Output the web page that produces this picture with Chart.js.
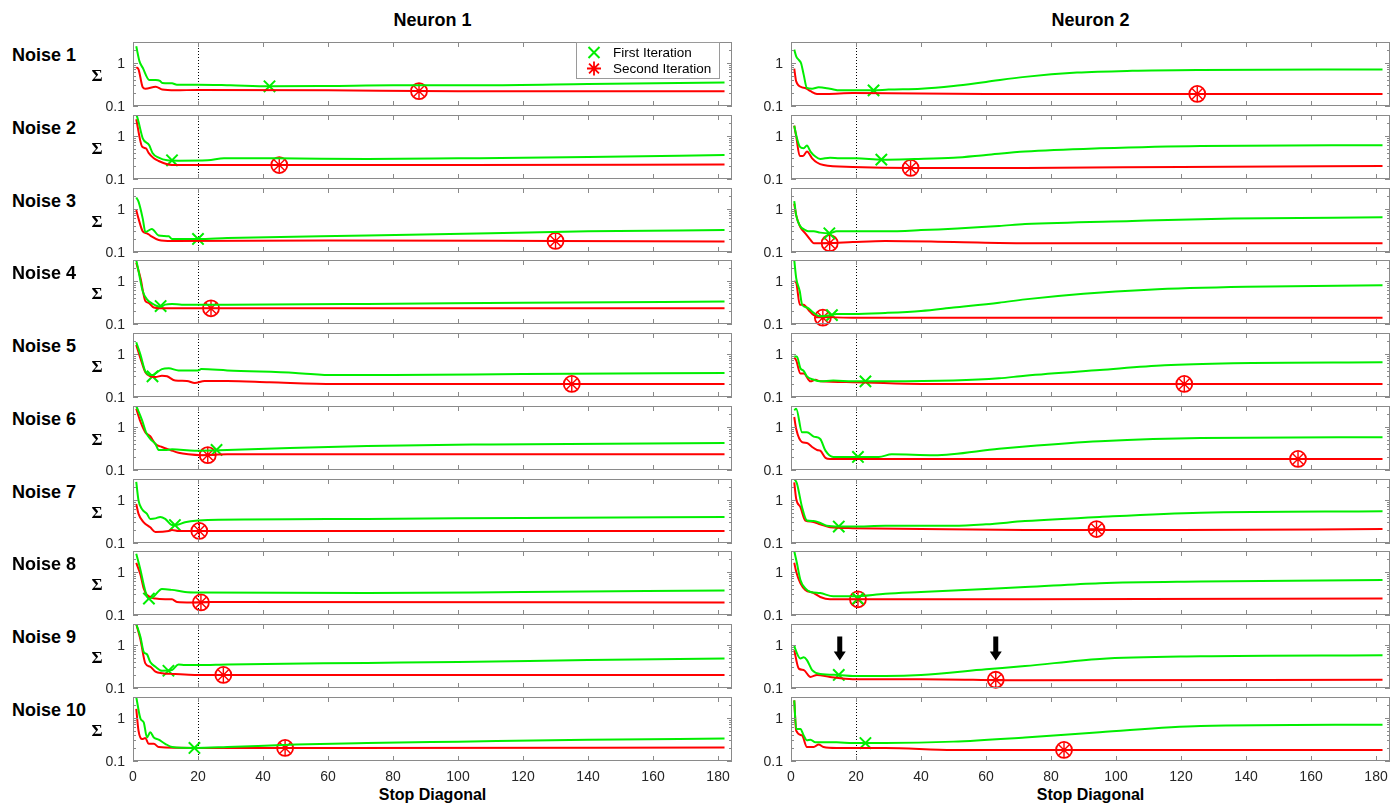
<!DOCTYPE html>
<html><head><meta charset="utf-8">
<script src="https://cdn.jsdelivr.net/npm/chart.js@4.4.1/dist/chart.umd.min.js"></script>
<style>
body{margin:0;background:#fff;width:1391px;height:805px;overflow:hidden;position:relative;font-family:"Liberation Sans",Arial,Helvetica,sans-serif;}
.lbl{position:absolute;font-weight:bold;color:#000;white-space:nowrap;line-height:1;}
canvas{position:absolute;}
</style></head><body>
<script>
// ---------- axis / annotation values ----------
const xTicks = [0,20,40,60,80,100,120,140,160,180];
const yTicks = [0.1,1];
const yMinor = [0.2,0.3,0.4,0.5,0.6,0.7,0.8,0.9,2,3];
const stopLine = 20;
const columnTitles = ["Neuron 1","Neuron 2"];
const rowTitles = ["Noise 1","Noise 2","Noise 3","Noise 4","Noise 5","Noise 6","Noise 7","Noise 8","Noise 9","Noise 10"];
const xTitle = "Stop Diagonal";
const yTitle = "Σ";
const legendLabels = ["First Iteration","Second Iteration"];
const arrowX = [15,63];
const arrowY = [1.55,0.43];

// ---------- Neuron 1 : first iteration (green) ----------
const n1_g1 = [[1,2.4],[2,1.07],[3,0.76],[5,0.4],[7,0.4],[8.3,0.38],[9,0.34],[12,0.335],[13.5,0.31],[20,0.31],[30,0.3],[42,0.285],[60,0.29],[80,0.3],[107,0.3],[140,0.32],[182,0.35]];
const n1_g2 = [[1,3.2],[1.7,2.1],[3,0.87],[5,0.6],[6,0.4],[7.9,0.31],[10.5,0.27],[14,0.265],[23,0.27],[28,0.3],[44,0.3],[72,0.29],[100,0.3],[140,0.32],[182,0.36]];
const n1_g3 = [[1,1.8],[1.7,1.45],[3,0.59],[3.8,0.29],[5.8,0.34],[7.9,0.24],[11,0.23],[12,0.2],[15,0.2],[20,0.2],[29,0.21],[72,0.24],[110,0.27],[140,0.3],[182,0.32]];
const n1_g4 = [[1,3.0],[1.7,1.67],[3,0.57],[4.3,0.37],[5.8,0.3],[8.5,0.25],[9.9,0.28],[12,0.29],[15,0.28],[29,0.28],[72,0.29],[120,0.31],[182,0.33]];
const n1_g5 = [[1,1.83],[2.3,0.94],[3.8,0.39],[5.8,0.32],[6.9,0.35],[8.9,0.44],[11,0.46],[14,0.41],[20,0.41],[21,0.44],[29,0.41],[50,0.36],[62,0.32],[80,0.32],[120,0.34],[182,0.36]];
const n1_g6 = [[1,3.0],[2.8,1.4],[4,0.74],[5.3,0.52],[6.9,0.4],[7.9,0.29],[9.9,0.29],[12,0.3],[19,0.28],[29,0.29],[72,0.36],[110,0.39],[182,0.42]];
const n1_g7 = [[1,2.56],[1.7,0.96],[2.8,0.6],[4.3,0.47],[5.3,0.36],[6.9,0.37],[8.4,0.4],[9.9,0.36],[12,0.26],[13,0.26],[16,0.3],[20,0.33],[23,0.34],[72,0.36],[120,0.38],[182,0.4]];
const n1_g8 = [[1,2.6],[2.3,1.1],[3.3,0.5],[4.3,0.27],[5,0.24],[6.4,0.27],[8.9,0.4],[12,0.38],[16,0.34],[20,0.33],[72,0.32],[120,0.34],[182,0.37]];
const n1_g9 = [[1,3.0],[2.3,1.5],[3.3,0.68],[4.3,0.6],[5.3,0.4],[6.9,0.31],[8.9,0.25],[12,0.26],[14,0.35],[16,0.34],[20,0.34],[29,0.35],[72,0.38],[100,0.4],[140,0.44],[182,0.48]];
const n1_g10 = [[1,3.0],[2.3,0.95],[3.3,0.78],[4.3,0.35],[5.3,0.46],[6.4,0.35],[7.9,0.31],[9.9,0.25],[12,0.21],[19,0.2],[29,0.21],[50,0.24],[72,0.26],[100,0.28],[140,0.31],[182,0.33]];

// ---------- Neuron 1 : second iteration (red) ----------
const n1_r1 = [[1,0.78],[1.7,0.7],[3,0.27],[3.8,0.25],[7,0.28],[9,0.24],[13,0.23],[20,0.235],[60,0.23],[100,0.22],[182,0.22]];
const n1_r2 = [[1,2.4],[2.8,0.56],[4,0.51],[4.8,0.4],[6.4,0.3],[7.9,0.26],[10.5,0.22],[14,0.21],[45,0.21],[100,0.21],[182,0.215]];
const n1_r3 = [[1,0.93],[1.7,0.59],[3,0.3],[4.3,0.27],[5.3,0.24],[7.9,0.19],[12,0.18],[60,0.185],[130,0.18],[182,0.175]];
const n1_r4 = [[1,2.6],[2.3,1.15],[3.8,0.34],[4.8,0.31],[6.4,0.24],[8.9,0.23],[24,0.23],[182,0.23]];
const n1_r5 = [[1,1.6],[2.3,0.78],[3.8,0.37],[5.3,0.3],[6.9,0.29],[8.9,0.31],[10.5,0.3],[13,0.24],[16.6,0.235],[19,0.21],[22,0.235],[29,0.235],[42,0.22],[62,0.2],[182,0.2]];
const n1_r6 = [[1,2.6],[2.3,1.3],[3.8,0.74],[5.3,0.6],[6.9,0.4],[8.9,0.34],[11.5,0.29],[14,0.25],[17,0.23],[21,0.22],[29,0.23],[72,0.23],[182,0.23]];
const n1_r7 = [[1,0.8],[1.7,0.47],[3.3,0.3],[5.3,0.23],[6.9,0.18],[11,0.19],[12,0.2],[14,0.19],[20,0.19],[72,0.19],[182,0.19]];
const n1_r8 = [[1,1.6],[2.3,0.85],[3.3,0.41],[4.3,0.29],[6.9,0.24],[9.9,0.23],[12,0.23],[13.5,0.2],[18,0.195],[23,0.2],[182,0.195]];
const n1_r9 = [[1,3.0],[2.3,1.3],[3.8,0.37],[5.3,0.31],[6.9,0.24],[8.9,0.22],[13,0.21],[19,0.2],[182,0.2]];
const n1_r10 = [[1,1.6],[1.7,0.5],[2.8,0.32],[3.8,0.34],[4.8,0.25],[6.4,0.25],[7.9,0.21],[19,0.2],[60,0.2],[182,0.205]];

// ---------- Neuron 2 : first iteration (green) ----------
const n2_g1 = [[1,2.0],[1.6,1.4],[2.4,1.16],[3.1,0.97],[3.9,0.53],[4.9,0.26],[6.5,0.25],[8.5,0.27],[12,0.25],[15,0.23],[25.4,0.23],[30,0.24],[40,0.25],[50,0.29],[60,0.36],[72,0.47],[88,0.59],[105,0.65],[126,0.68],[182,0.7]];
const n2_g2 = [[1,1.7],[1.6,1.03],[2.7,0.56],[3.9,0.51],[4.9,0.59],[6,0.43],[7.5,0.33],[9,0.29],[12,0.31],[15,0.3],[20,0.3],[28,0.28],[38,0.29],[50,0.31],[60,0.36],[72,0.43],[95,0.51],[126,0.58],[182,0.6]];
const n2_g3 = [[1,1.5],[1.6,0.7],[2.7,0.41],[4.4,0.32],[5.4,0.3],[7,0.3],[9,0.28],[11.8,0.27],[14,0.3],[29,0.3],[40,0.32],[64,0.4],[72,0.44],[105,0.52],[136,0.59],[182,0.63]];
const n2_g4 = [[1,3.0],[1.6,1.15],[2.7,0.57],[3.4,0.28],[4.9,0.24],[7,0.18],[9,0.15],[12,0.16],[14,0.17],[19,0.17],[29,0.18],[40,0.2],[50,0.24],[64,0.31],[72,0.37],[90,0.5],[110,0.62],[140,0.72],[182,0.78]];
const n2_g5 = [[1,0.86],[1.8,0.86],[2.9,0.46],[3.9,0.4],[4.9,0.3],[7,0.25],[9,0.23],[13,0.24],[19,0.23],[29,0.23],[50,0.24],[64,0.27],[72,0.31],[95,0.42],[115,0.54],[136,0.6],[182,0.63]];
const n2_g6 = [[1,2.4],[1.6,2.6],[3.4,0.74],[4.9,0.74],[7,0.59],[9,0.52],[10.6,0.28],[13,0.2],[17,0.2],[20.6,0.2],[27,0.2],[31,0.23],[44,0.22],[64,0.31],[72,0.35],[95,0.46],[126,0.55],[182,0.57]];
const n2_g7 = [[1,3.0],[1.8,2.4],[3.4,0.67],[4.9,0.33],[7,0.32],[9,0.29],[11,0.25],[14.7,0.24],[19,0.24],[29,0.25],[50,0.25],[60,0.27],[72,0.32],[95,0.4],[126,0.5],[182,0.54]];
const n2_g8 = [[1,3.0],[1.8,1.6],[2.9,0.64],[4.4,0.41],[6,0.34],[9,0.32],[13,0.27],[19,0.27],[29,0.31],[40,0.34],[60,0.4],[72,0.44],[95,0.54],[126,0.59],[182,0.64]];
const n2_g9 = [[1,0.97],[1.3,0.8],[2.9,0.48],[3.9,0.51],[4.9,0.44],[6.5,0.26],[9,0.21],[14.7,0.2],[19,0.19],[29,0.19],[40,0.2],[60,0.27],[72,0.32],[95,0.47],[126,0.54],[182,0.57]];
const n2_g10 = [[1,2.5],[1.6,0.55],[2.9,0.55],[3.9,0.39],[4.9,0.3],[6,0.31],[7.5,0.27],[14,0.27],[19,0.26],[29,0.26],[50,0.28],[72,0.35],[95,0.46],[126,0.64],[182,0.69]];

// ---------- Neuron 2 : second iteration (red) ----------
const n2_r1 = [[1,0.73],[1.6,0.37],[3.4,0.27],[4.4,0.26],[6,0.22],[8,0.19],[11,0.19],[19,0.2],[60,0.19],[182,0.19]];
const n2_r2 = [[1,1.7],[1.6,0.96],[2.7,0.34],[3.7,0.34],[4.9,0.43],[6.5,0.3],[8,0.24],[10,0.21],[19,0.19],[37,0.18],[72,0.18],[120,0.19],[182,0.2]];
const n2_r3 = [[1,1.3],[1.6,0.7],[2.9,0.37],[4.4,0.27],[6,0.19],[7,0.16],[11,0.16],[19,0.17],[29,0.18],[50,0.17],[72,0.16],[182,0.16]];
const n2_r4 = [[1,0.97],[1.6,0.9],[2.7,0.28],[3.9,0.28],[5.4,0.21],[7,0.16],[9,0.15],[19,0.14],[182,0.14]];
const n2_r5 = [[1,0.81],[1.6,0.7],[2.9,0.35],[3.9,0.35],[6,0.23],[7.5,0.25],[9,0.23],[19,0.22],[40,0.2],[182,0.2]];
const n2_r6 = [[1,1.67],[1.6,0.88],[3.4,0.44],[4.9,0.42],[6.5,0.34],[8,0.29],[9,0.28],[10.6,0.19],[12,0.18],[29,0.18],[182,0.18]];
const n2_r7 = [[1,2.5],[1.6,1.04],[2.9,0.67],[4.4,0.33],[6.5,0.31],[9,0.27],[12,0.23],[19,0.22],[40,0.21],[72,0.2],[120,0.2],[182,0.21]];
const n2_r8 = [[1,1.6],[1.6,1.0],[2.9,0.54],[4.4,0.38],[7,0.32],[9,0.26],[12,0.23],[19,0.23],[72,0.23],[182,0.24]];
const n2_r9 = [[1,0.74],[2.4,0.28],[3.9,0.26],[6,0.18],[8,0.2],[12,0.18],[19,0.16],[40,0.16],[72,0.15],[182,0.155]];
const n2_r10 = [[1,2.5],[1.6,0.5],[3.4,0.39],[4.9,0.21],[7,0.21],[8.5,0.24],[10,0.21],[14,0.2],[29,0.2],[50,0.18],[72,0.18],[182,0.18]];

// ---------- selected stop markers (one per panel, rows Noise 1..10) ----------
const n1_firstMark  = [[42,0.285],[12,0.27],[20,0.2],[8.5,0.26],[6,0.3],[25.7,0.29],[12.9,0.26],[4.9,0.24],[10.9,0.25],[18.9,0.2]];
const n1_secondMark = [[88,0.22],[45,0.21],[130,0.18],[24,0.23],[135,0.2],[23,0.22],[20.4,0.19],[20.9,0.195],[27.8,0.2],[46.8,0.2]];
const n2_firstMark  = [[25.4,0.23],[27.8,0.28],[11.8,0.27],[12.6,0.16],[22.9,0.23],[20.6,0.2],[14.7,0.24],[20.6,0.24],[14.7,0.2],[22.9,0.26]];
const n2_secondMark = [[125,0.19],[36.8,0.18],[11.9,0.16],[9.8,0.14],[121,0.2],[156,0.18],[94,0.21],[20.6,0.23],[63,0.155],[84,0.18]];

// ---------- assembly ----------
const GREEN = '#00ee00', RED = '#ff0000', FRAME = '#8a8a8a', TXT = '#262626';
const series = [
  {first:[n1_g1,n1_g2,n1_g3,n1_g4,n1_g5,n1_g6,n1_g7,n1_g8,n1_g9,n1_g10],
   second:[n1_r1,n1_r2,n1_r3,n1_r4,n1_r5,n1_r6,n1_r7,n1_r8,n1_r9,n1_r10],
   fm:n1_firstMark, sm:n1_secondMark},
  {first:[n2_g1,n2_g2,n2_g3,n2_g4,n2_g5,n2_g6,n2_g7,n2_g8,n2_g9,n2_g10],
   second:[n2_r1,n2_r2,n2_r3,n2_r4,n2_r5,n2_r6,n2_r7,n2_r8,n2_r9,n2_r10],
   fm:n2_firstMark, sm:n2_secondMark}
];
const toXY = a => a.map(p => ({x:p[0], y:p[1]}));

const colX0 = [133, 791], plotW = 599, plotH = 64;
const padL = 60, padT = 12, padR = 12;
function panelTop(r){ return Math.round(42.3 + 72.7*r); }

const framePlugin = {
  id:'frame',
  beforeDatasetsDraw(chart, args, o){
    const {ctx, chartArea:a, scales:{x}} = chart;
    ctx.save();
    ctx.strokeStyle = '#000'; ctx.lineWidth = 1; ctx.setLineDash([1,2]);
    const px = Math.round(x.getPixelForValue(stopLine)) + 0.5;
    ctx.beginPath(); ctx.moveTo(px, a.top); ctx.lineTo(px, a.bottom); ctx.stroke();
    ctx.restore();
  },
  afterDatasetsDraw(chart, args, o){
    const {ctx, chartArea:a, scales:{x, y}} = chart;
    ctx.save();
    // frame
    ctx.strokeStyle = FRAME; ctx.lineWidth = 1;
    ctx.strokeRect(a.left + 0.5, a.top + 0.5, a.right - a.left - 1, a.bottom - a.top - 1);
    ctx.beginPath();
    xTicks.forEach(v => {
      const px = Math.round(x.getPixelForValue(v)) + 0.5;
      ctx.moveTo(px, a.top); ctx.lineTo(px, a.top + 5);
      ctx.moveTo(px, a.bottom); ctx.lineTo(px, a.bottom - 5);
    });
    yTicks.forEach(v => {
      const py = Math.round(y.getPixelForValue(v)) + 0.5;
      ctx.moveTo(a.left, py); ctx.lineTo(a.left + 5, py);
      ctx.moveTo(a.right, py); ctx.lineTo(a.right - 5, py);
    });
    yMinor.forEach(v => {
      const py = Math.round(y.getPixelForValue(v)) + 0.5;
      ctx.moveTo(a.left, py); ctx.lineTo(a.left + 3, py);
      ctx.moveTo(a.right, py); ctx.lineTo(a.right - 3, py);
    });
    ctx.stroke();
    // y tick labels
    ctx.fillStyle = TXT; ctx.font = '14px "Liberation Sans", Arial, sans-serif';
    ctx.textAlign = 'right'; ctx.textBaseline = 'middle';
    yTicks.forEach(v => ctx.fillText(String(v), a.left - 8, y.getPixelForValue(v) + 1));
    // x tick labels (bottom row)
    if (o.row === 9) {
      ctx.textAlign = 'center'; ctx.textBaseline = 'middle';
      xTicks.forEach(v => ctx.fillText(String(v), x.getPixelForValue(v), a.bottom + 16));
    }
    // sigma label (left column)
    if (o.col === 0) {
      ctx.fillStyle = '#000'; ctx.font = 'bold 17px "Liberation Serif", "DejaVu Serif", serif';
      ctx.textAlign = 'center'; ctx.textBaseline = 'middle';
      ctx.fillText(yTitle, a.left - 36, (a.top + a.bottom) / 2 + 3);
    }
    // arrows (Neuron 2, Noise 9)
    if (o.col === 1 && o.row === 8) {
      ctx.fillStyle = '#000';
      arrowX.forEach(v => {
        const px = x.getPixelForValue(v);
        const yt = y.getPixelForValue(arrowY[0]), yb = y.getPixelForValue(arrowY[1]);
        const hl = 9;
        ctx.beginPath();
        ctx.moveTo(px - 2.5, yt); ctx.lineTo(px + 2.5, yt); ctx.lineTo(px + 2.5, yb - hl);
        ctx.lineTo(px + 6, yb - hl); ctx.lineTo(px, yb); ctx.lineTo(px - 6, yb - hl);
        ctx.lineTo(px - 2.5, yb - hl); ctx.closePath(); ctx.fill();
      });
    }
    // legend (first panel)
    if (o.col === 0 && o.row === 0) {
      const right = a.right - 13, left = right - 143, top = a.top + 0.5, h = 36;
      ctx.fillStyle = '#fff'; ctx.fillRect(left, top, right - left, h);
      ctx.strokeStyle = '#9a9a9a'; ctx.lineWidth = 1;
      ctx.strokeRect(left + 0.5, top, right - left, h);
      const mx = left + 18;
      ctx.strokeStyle = GREEN; ctx.lineWidth = 2;
      const r1 = 5.5, yy1 = top + 10;
      ctx.beginPath(); ctx.moveTo(mx - r1, yy1 - r1); ctx.lineTo(mx + r1, yy1 + r1);
      ctx.moveTo(mx + r1, yy1 - r1); ctx.lineTo(mx - r1, yy1 + r1); ctx.stroke();
      ctx.strokeStyle = RED; ctx.lineWidth = 1.8;
      const yy2 = top + 26, r2 = 7;
      ctx.beginPath();
      for (let k = 0; k < 4; k++) {
        const ang = k * Math.PI / 4;
        ctx.moveTo(mx - r2*Math.cos(ang), yy2 - r2*Math.sin(ang));
        ctx.lineTo(mx + r2*Math.cos(ang), yy2 + r2*Math.sin(ang));
      }
      ctx.stroke();
      ctx.fillStyle = '#000'; ctx.font = '13.5px "Liberation Sans", Arial, sans-serif';
      ctx.textAlign = 'left'; ctx.textBaseline = 'middle';
      ctx.fillText(legendLabels[0], left + 37, yy1 + 1);
      ctx.fillText(legendLabels[1], left + 37, yy2 + 1);
    }
    ctx.restore();
  }
};

function addLabel(text, x, y, size, align){
  const d = document.createElement('div');
  d.className = 'lbl'; d.textContent = text; d.style.fontSize = size + 'px';
  d.style.top = y + 'px';
  if (align === 'center') { d.style.left = (x - 200) + 'px'; d.style.width = '400px'; d.style.textAlign = 'center'; }
  else d.style.left = x + 'px';
  document.body.appendChild(d);
}

for (let c = 0; c < 2; c++) {
  addLabel(columnTitles[c], colX0[c] + plotW/2, 11, 18, 'center');
  addLabel(xTitle, colX0[c] + plotW/2, 787, 16, 'center');
  for (let r = 0; r < 10; r++) {
    if (c === 0) addLabel(rowTitles[r], 12, panelTop(r) + 4, 18, 'left');
    const padB = r === 9 ? 40 : 12;
    const cv = document.createElement('canvas');
    const W = padL + plotW + padR, H = padT + plotH + padB;
    cv.width = W; cv.height = H;
    cv.style.width = W + 'px'; cv.style.height = H + 'px';
    cv.style.left = (colX0[c] - padL) + 'px';
    cv.style.top = (panelTop(r) - padT) + 'px';
    document.body.appendChild(cv);
    const S = series[c];
    const fm = S.fm[r], sm = S.sm[r];
    new Chart(cv.getContext('2d'), {
      type: 'line',
      data: { datasets: [
        { data: toXY(S.first[r]), borderColor: GREEN, borderWidth: 2, pointRadius: 0, cubicInterpolationMode: 'monotone', fill: false },
        { data: toXY(S.second[r]), borderColor: RED, borderWidth: 2, pointRadius: 0, cubicInterpolationMode: 'monotone', fill: false },
        { data: [{x:fm[0], y:fm[1]}], showLine: false, pointStyle: 'crossRot', pointRadius: 8,
          pointBorderColor: GREEN, pointBackgroundColor: GREEN, pointBorderWidth: 2, clip: false },
        { data: [{x:sm[0], y:sm[1]}], showLine: false, pointStyle: 'circle', pointRadius: 8,
          pointBorderColor: RED, pointBackgroundColor: 'rgba(0,0,0,0)', pointBorderWidth: 1.8, clip: false },
        { data: [{x:sm[0], y:sm[1]}], showLine: false, pointStyle: 'star', pointRadius: 7.5,
          pointBorderColor: RED, pointBackgroundColor: RED, pointBorderWidth: 1.4, clip: false }
      ]},
      options: {
        responsive: false, animation: false, events: [],
        layout: { padding: { left: padL, top: padT, right: padR, bottom: padB } },
        scales: {
          x: { type: 'linear', min: 0, max: 184.3, display: false },
          y: { type: 'logarithmic', min: 0.1, max: 3, display: false }
        },
        plugins: { legend: { display: false }, tooltip: { enabled: false }, frame: { row: r, col: c } }
      },
      plugins: [framePlugin]
    });
  }
}
</script>
</body></html>
